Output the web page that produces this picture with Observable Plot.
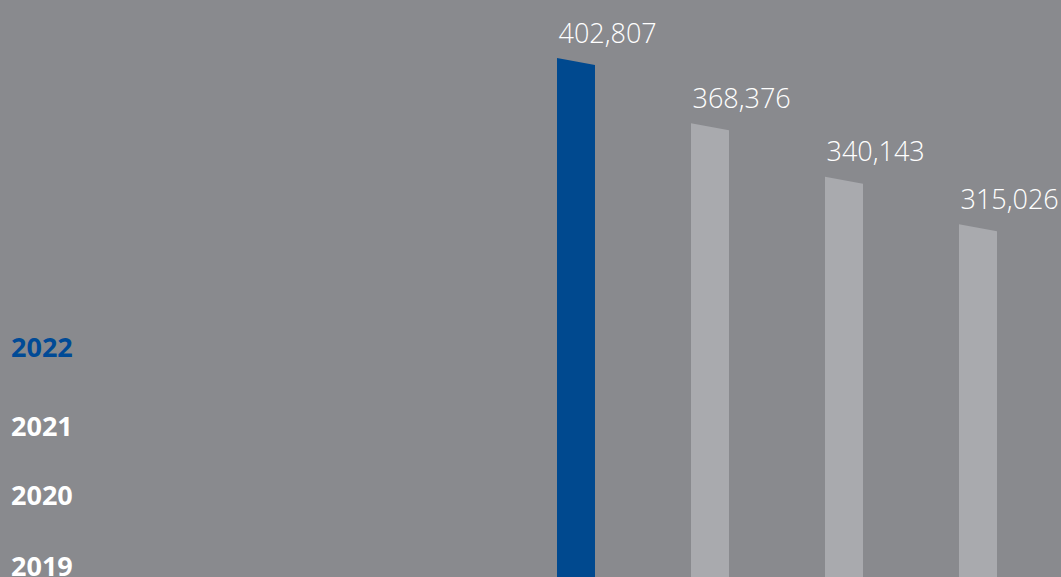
<!DOCTYPE html>
<html>
<head>
<meta charset="utf-8">
<script src="https://cdn.jsdelivr.net/npm/d3@7"></script>
<script src="https://cdn.jsdelivr.net/npm/@observablehq/plot@0.6"></script>
<style>
  html, body { margin: 0; padding: 0; background: #898a8e; overflow: hidden; }
  #wrap { position: relative; width: 1061px; height: 577px; }
  #years { position: absolute; left: 0; top: 0; }
  #years div { position: absolute; left: 11px; font: 700 27px "Open Sans", sans-serif; line-height: 1; color: #ffffff; white-space: nowrap; }
</style>
</head>
<body>
<div id="wrap"><div id="years"></div></div>
<script>
const years = [2022, 2021, 2020, 2019];
const values = [402807, 368376, 340143, 315026];
const yearLabels = ["2022", "2021", "2020", "2019"];

const BG = "#898a8e", BLUE = "#00498f", GRAY = "#a9aaae";
const yDomain = [0, 402807], yRange = [821, 58];
const halfWidth = 19 / 134; // in bar-index units
const ys = Plot.scale({y: {type: "linear", domain: yDomain, range: yRange}});
const slant = ys.invert(ys.apply(0) - 7); // 7px drop across the top

const bars = years.map((year, i) => ({year, i, value: values[i]}));
const pts = bars.flatMap(b => [
  {year: b.year, x: b.i - halfWidth, y: b.value},
  {year: b.year, x: b.i + halfWidth, y: b.value - slant}
]);

const fmt = d3.format(",");

const plot = Plot.plot({
  width: 1061,
  height: 577,
  margin: 0,
  style: {background: BG, overflow: "visible"},
  x: {type: "linear", domain: [0, 3], range: [576, 978], axis: null},
  y: {type: "linear", domain: yDomain, range: yRange, axis: null},
  marks: [
    Plot.area(pts.filter(d => d.year === 2022), {x1: "x", y1: 0, y2: "y", z: "year", fill: BLUE}),
    Plot.area(pts.filter(d => d.year !== 2022), {x1: "x", y1: 0, y2: "y", z: "year", fill: GRAY}),
    Plot.text(bars, {
      x: d => d.i - halfWidth, y: "value", text: d => fmt(d.value),
      textAnchor: "start", lineAnchor: "bottom", dx: 1, dy: -16,
      fill: "#ffffff", fontSize: 27, fontFamily: "Open Sans, sans-serif", fontWeight: 300
    })
  ]
});
document.getElementById("wrap").prepend(plot);

const tops = [333, 412, 481, 552];
const yc = document.getElementById("years");
yearLabels.forEach((t, i) => {
  const d = document.createElement("div");
  d.textContent = t;
  d.style.top = tops[i] + "px";
  if (i === 0) d.style.color = "#004a96";
  yc.appendChild(d);
});
</script>
</body>
</html>
